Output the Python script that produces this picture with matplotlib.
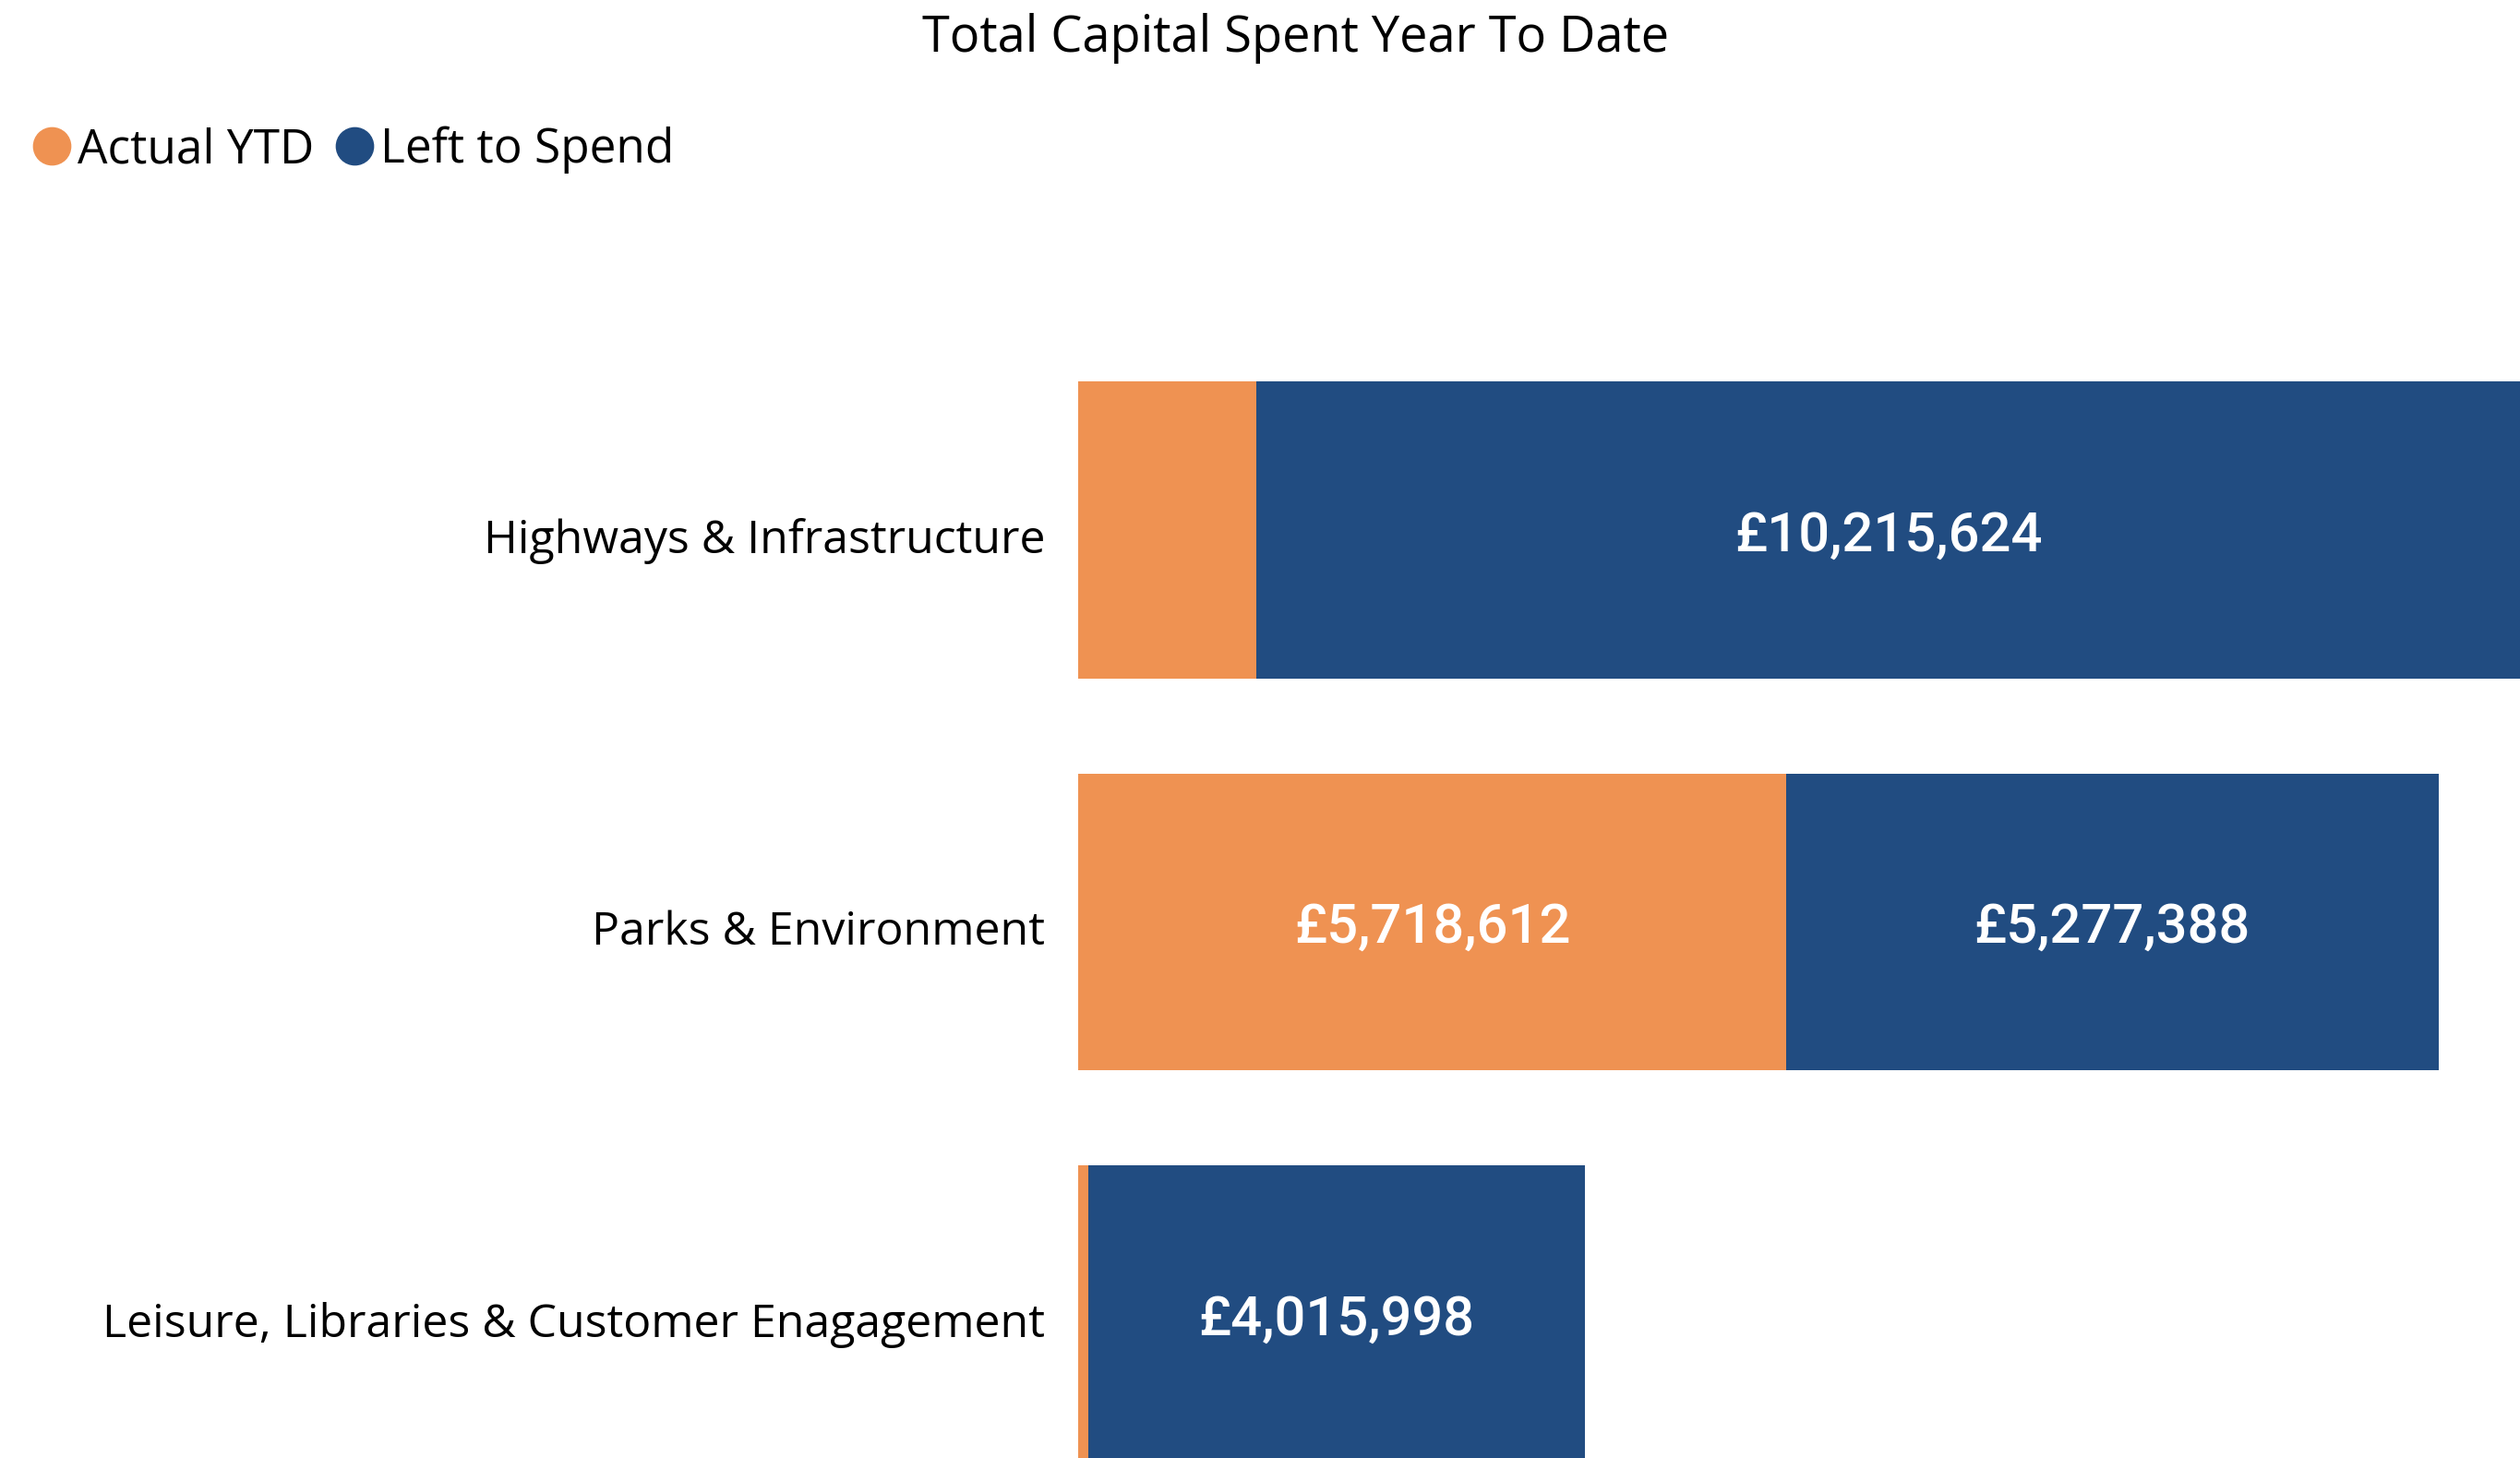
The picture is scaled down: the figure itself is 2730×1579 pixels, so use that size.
import matplotlib
matplotlib.use("Agg")
import matplotlib.pyplot as plt
import matplotlib.transforms as mtransforms
from matplotlib.lines import Line2D

# data
categories = ["Highways & Infrastructure", "Parks & Environment",
              "Leisure, Libraries & Customer Enagagement"]
actual_ytd = [1440000, 5718612, 80000]
left_to_spend = [10215624, 5277388, 4015998]
series_names = ["Actual YTD", "Left to Spend"]

orange = "#EF9252"
blue = "#214C81"

plt.rcParams['font.family'] = ['Open Sans', 'DejaVu Sans']

fig = plt.figure(figsize=(27.3, 15.79), dpi=100)
ax = fig.add_axes([0.428, 0.0, 0.572, 0.81])

ypos = list(range(len(categories)))
ax.barh(ypos, actual_ytd, height=0.758, color=orange)
ax.barh(ypos, left_to_spend, left=actual_ytd, height=0.758, color=blue)

# value labels (only where the segment is wide enough), nudged down a touch
shift = mtransforms.ScaledTranslation(0, -6 / 100, fig.dpi_scale_trans)
lab_font = dict(color="white", ha="center", va="center", fontsize=43,
                family=["Roboto", "DejaVu Sans"], fontweight="medium",
                transform=ax.transData + shift)
for i in ypos:
    if actual_ytd[i] > 1500000:
        ax.text(actual_ytd[i] / 2, i, "£{:,}".format(actual_ytd[i]), **lab_font)
    ax.text(actual_ytd[i] + left_to_spend[i] / 2, i, "£{:,}".format(left_to_spend[i]), **lab_font)

ax.set_xlim(0, actual_ytd[0] + left_to_spend[0])
ax.set_ylim(2.367, -0.645)
ax.set_yticks(ypos)
ax.set_yticklabels(categories, fontsize=36)
ax.tick_params(axis="y", length=0, pad=26)
for lbl in ax.get_yticklabels():
    lbl.set_transform(lbl.get_transform() + shift)
ax.set_xticks([])
for s in ax.spines.values():
    s.set_visible(False)

fig.text(0.514, 0.974, "Total Capital Spent Year To Date", ha="center", va="center", fontsize=39)

handles = [Line2D([], [], marker="o", linestyle="", markersize=29, color=c) for c in (orange, blue)]
fig.legend(handles, series_names, loc="center left", bbox_to_anchor=(0.0034, 0.897),
           ncol=2, frameon=False, fontsize=37, handletextpad=0.05, columnspacing=0.35,
           handlelength=1.0, borderaxespad=0)

fig.savefig("out.png", dpi=100)
